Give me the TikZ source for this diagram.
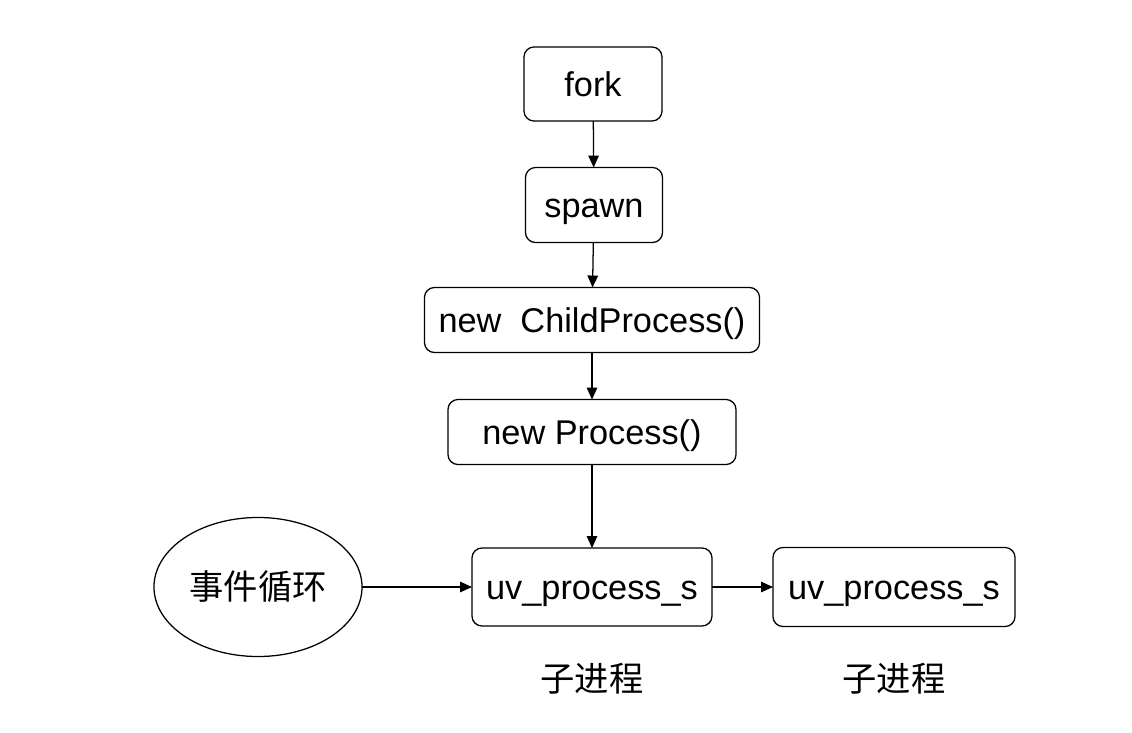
\documentclass[tikz,border=0pt]{standalone}
\usepackage{fontspec}
\setmainfont{Liberation Sans}
\newfontfamily\cjk{Noto Sans CJK SC}
\usetikzlibrary{positioning}
\usetikzlibrary{arrows.meta}
\usetikzlibrary{shapes.geometric}

\begin{document}
\begin{tikzpicture}[
        x=0.025cm, y=-0.025cm,
        every node/.style={draw, line width=0.9pt, inner sep=0pt, outer sep=0pt, font=\fontsize{24.4}{29}\selectfont},
        box/.style={rounded corners=0.25cm, text height=18.3pt, text depth=1.2pt},
        lbl/.style={draw=none},
        arr/.style={-{Triangle[length=8.5pt,width=7.5pt]}, line width=0.9pt},
    ]
        % Canvas
        \useasboundingbox (0,0) rectangle (1132,732);
        % Call chain
        \node[box, minimum width=3.45cm, minimum height=1.85cm] (fork) at (593,84) {fork};
        \node[box, minimum width=3.425cm, minimum height=1.875cm] (spawn) at (594,205) {spawn};
        \node[box, minimum width=8.375cm, minimum height=1.625cm] (child) at (592,320) {new~~ChildProcess()};
        \node[box, minimum width=7.2cm, minimum height=1.625cm] (proc) at (592,432) {new Process()};
        \node[box, minimum width=6cm, minimum height=1.95cm] (uva) at (592,587) {uv\_process\_s};
        \node[box, minimum width=6.05cm, minimum height=1.975cm] (uvb) at (894,587) {uv\_process\_s};
        % Event loop
        \node[ellipse, minimum width=5.2cm, minimum height=3.475cm] (loop) at (258,587) {\cjk 事件循环};
        % Labels
        \node[lbl] (suba) at (592,679) {\cjk 子进程};
        \node[lbl] (subb) at (894,679) {\cjk 子进程};

        % Edges
        \draw[arr] (fork) -- (spawn);
        \draw[arr] (spawn) -- (child);
        \draw[arr] (child) -- (proc);
        \draw[arr] (proc) -- (uva);
        \draw[arr] (loop) -- (uva);
        \draw[arr] (uva) -- (uvb);

    \end{tikzpicture}
\end{document}
